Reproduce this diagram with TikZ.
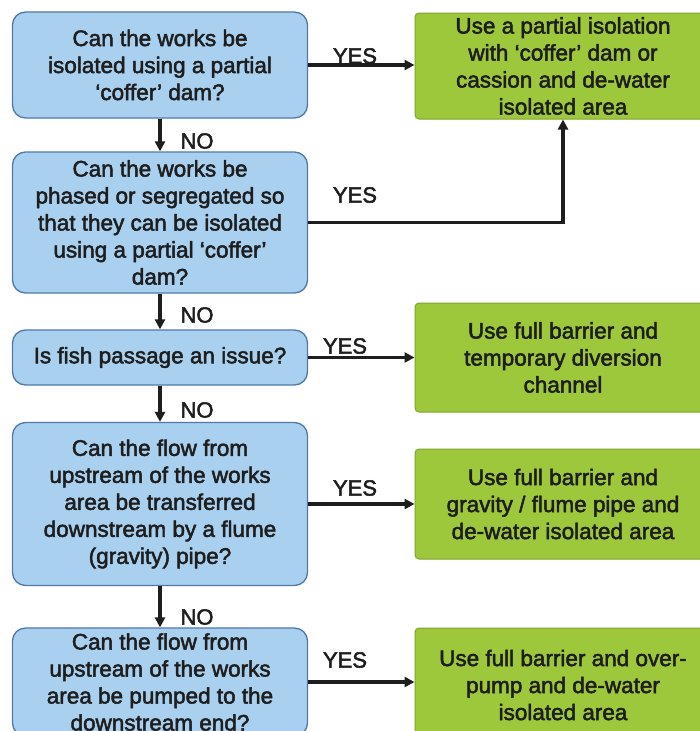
\documentclass[tikz,border=0pt]{standalone}
\usepackage{fontspec}
\setmainfont{Liberation Sans}[FakeBold=2.2]
\usetikzlibrary{arrows.meta}
\definecolor{qfill}{HTML}{AAD0F0}
\definecolor{qborder}{HTML}{4F79A8}
\definecolor{afill}{HTML}{9DC83B}
\definecolor{aborder}{HTML}{7FA52C}
\definecolor{ink}{HTML}{1E1E1E}
\begin{document}
\begin{tikzpicture}[x=1pt,y=-1pt,
  qbox/.style={draw=qborder, fill=qfill, rounded corners=13pt, line width=1.3pt,
    minimum width=295pt, align=center, inner sep=0pt, text=ink,
    font=\fontsize{22.5}{27}\selectfont},
  abox/.style={draw=aborder, fill=afill, rounded corners=4pt, line width=1pt,
    minimum width=296pt, align=center, inner sep=0pt, text=ink,
    font=\fontsize{22.5}{27}\selectfont},
  arr/.style={line width=3.2pt, ink, -{Triangle[length=10pt,width=10pt]}},
  lab/.style={inner sep=0pt, text=ink, font=\fontsize{22}{22}\selectfont}]
\useasboundingbox (0,0) rectangle (700,731);
\clip (0,0) rectangle (700,731);
\fill[white] (0,0) rectangle (700,731);

% questions
\node[qbox, minimum height=106pt] (q1) at (160,65)
  {Can the works be\\isolated using a partial\\‘coffer’ dam?};
\node[qbox, minimum height=141pt] (q2) at (160,222.5)
  {Can the works be\\phased or segregated so\\that they can be isolated\\using a partial ‘coffer’\\dam?};
\node[qbox, minimum height=55pt] (q3) at (160,357.5)
  {Is fish passage an issue?};
\node[qbox, minimum height=163pt] (q4) at (160,504)
  {Can the flow from\\upstream of the works\\area be transferred\\downstream by a flume\\(gravity) pipe?};
\node[qbox, minimum height=108pt] (q5) at (160,682)
  {Can the flow from\\upstream of the works\\area be pumped to the\\downstream end?};

% answers
\node[abox, minimum height=106pt] (a1) at (563,66)
  {Use a partial isolation\\with ‘coffer’ dam or\\cassion and de-water\\isolated area};
\node[abox, minimum height=109pt] (a2) at (563,357.5)
  {Use full barrier and\\temporary diversion\\channel};
\node[abox, minimum height=110pt] (a3) at (563,504)
  {Use full barrier and\\gravity / flume pipe and\\de-water isolated area};
\node[abox, minimum height=114pt] (a4) at (563,685)
  {Use full barrier and over-\\pump and de-water\\isolated area};

% connectors
\draw[arr] (q1.east) -- (q1.east -| a1.west);
\draw[arr] (q2.east) -| (a1.south);
\draw[arr] (q3.east) -- (a2.west);
\draw[arr] (q4.east) -- (a3.west);
\draw[arr] (q5.east) -- (q5.east -| a4.west);
\draw[arr] (q1.south) -- (q2.north);
\draw[arr] (q2.south) -- (q3.north);
\draw[arr] (q3.south) -- (q4.north);
\draw[arr] (q4.south) -- (q5.north);

% labels
\node[lab] (y1) at (355,56) {YES};
\node[lab] (y2) at (355,195) {YES};
\node[lab] (y3) at (345,346) {YES};
\node[lab] (y4) at (355,488) {YES};
\node[lab] (y5) at (345,660) {YES};
\node[lab] (n1) at (197,141) {NO};
\node[lab] (n2) at (197,315) {NO};
\node[lab] (n3) at (197,410) {NO};
\node[lab] (n4) at (197,617) {NO};
\end{tikzpicture}
\end{document}
